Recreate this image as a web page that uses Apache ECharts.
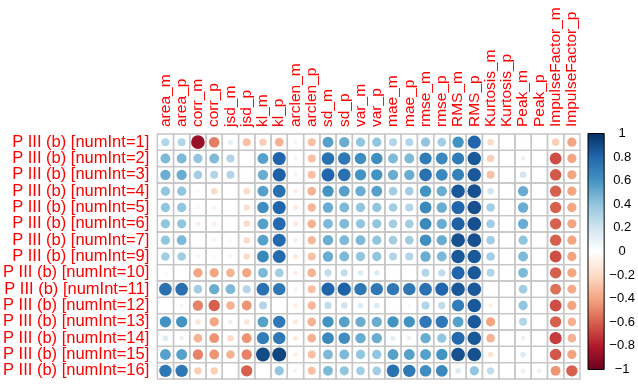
<!DOCTYPE html>
<html>
<head>
<meta charset="utf-8">
<script src="https://cdn.jsdelivr.net/npm/echarts@6/dist/echarts.min.js"></script>
<style>html,body{margin:0;padding:0;background:#fff}#c{width:638px;height:384px}</style>
</head>
<body>
<div id="c"></div>
<script>
const colLabels = ['area_m','area_p','corr_m','corr_p','jsd_m','jsd_p','kl_m','kl_p','arclen_m','arclen_p','sd_m','sd_p','var_m','var_p','mae_m','mae_p','rmse_m','rmse_p','RMS_m','RMS_p','Kurtosis_m','Kurtosis_p','Peak_m','Peak_p','ImpulseFactor_m','ImpulseFactor_p'];
const rowLabels = ['P III (b) [numInt=1]','P III (b) [numInt=2]','P III (b) [numInt=3]','P III (b) [numInt=4]','P III (b) [numInt=5]','P III (b) [numInt=6]','P III (b) [numInt=7]','P III (b) [numInt=9]','P III (b) [numInt=10]','P III (b) [numInt=11]','P III (b) [numInt=12]','P III (b) [numInt=13]','P III (b) [numInt=14]','P III (b) [numInt=15]','P III (b) [numInt=16]'];
const corr = [
 [0.3,0.3,-0.87,-0.52,0.12,-0.3,-0.25,-0.35,-0.07,-0.3,0.55,0.5,0.4,0.4,0.3,0.3,0.4,0.35,0.6,0.8,-0.2,0,0.03,0.02,-0.25,-0.4],
 [0.45,0.45,0.4,0.45,0.3,0.02,0.55,0.8,-0.08,-0.3,0.75,0.72,0.62,0.62,0.45,0.45,0.7,0.65,0.7,0.85,-0.25,0,0.1,0.02,-0.65,-0.4],
 [0.5,0.5,0.35,0.3,0.3,-0.03,0.5,0.82,-0.08,-0.3,0.8,0.75,0.6,0.6,0.5,0.5,0.75,0.65,0.68,0.85,-0.3,0,0.2,0.02,-0.62,-0.4],
 [0.4,0.4,-0.05,-0.2,0,-0.2,0.55,0.75,-0.1,-0.35,0.6,0.55,0.5,0.55,0.35,0.35,0.6,0.5,0.85,0.88,0.2,0,0.5,0.02,-0.6,-0.4],
 [0.4,0.4,-0.05,-0.08,0,-0.18,0.62,0.8,-0.12,-0.33,0.5,0.45,0.4,0.4,0.35,0.3,0.65,0.5,0.8,0.88,0.35,0,0.5,0.02,-0.6,-0.4],
 [0.4,0.4,-0.1,-0.1,-0.03,-0.2,0.55,0.78,-0.12,-0.35,0.45,0.45,0.4,0.4,0.35,0.35,0.65,0.5,0.82,0.88,0.35,0,0.5,0.02,-0.6,-0.4],
 [0.4,0.45,0.02,-0.08,-0.05,-0.2,0.55,0.78,-0.1,-0.33,0.5,0.45,0.45,0.4,0.35,0.35,0.62,0.5,0.88,0.88,0.35,0,0.4,0.02,-0.6,-0.4],
 [0.35,0.35,-0.07,-0.05,-0.07,-0.2,0.65,0.78,-0.12,-0.3,0.5,0.45,0.4,0.4,0.3,0.3,0.5,0.45,0.85,0.85,0.35,0,0.45,0.02,-0.65,-0.4],
 [0.05,0.02,-0.4,-0.4,-0.35,-0.4,0.45,0.35,-0.1,-0.35,0.25,0.25,0.15,0.15,0.03,0.01,0.3,0.25,0.8,0.85,0.3,0,0.45,0.02,-0.6,-0.4],
 [0.75,0.75,0.35,0.5,0.45,0.3,0.75,0.72,-0.08,-0.3,0.8,0.82,0.72,0.72,0.72,0.72,0.75,0.8,0.85,0.85,0.03,0,0.35,0.02,-0.55,-0.38],
 [0.02,-0.07,-0.5,-0.6,-0.35,-0.45,0.3,0,-0.1,-0.33,0.25,0.2,0.15,0.15,0.02,-0.05,0.3,0.25,0.7,0.85,-0.1,0,0.4,0.02,-0.65,-0.4],
 [0.6,0.6,-0.15,-0.4,0.1,-0.15,0.55,0.72,-0.12,-0.35,0.6,0.55,0.5,0.5,0.6,0.6,0.72,0.72,0.55,0.85,-0.4,0,0.3,0.02,-0.6,-0.35],
 [0.15,0.1,-0.35,-0.45,-0.2,-0.45,0.7,0.72,-0.12,-0.35,0.65,0.62,0.5,0.5,0.12,0.1,0.5,0.4,0.78,0.85,-0.35,0,0.1,0.02,-0.7,-0.35],
 [0.55,0.55,-0.5,-0.45,-0.35,-0.5,0.9,0.92,-0.1,-0.3,0.45,0.45,0.4,0.4,0.55,0.55,0.55,0.6,0.88,0.88,-0.15,0,0.15,0.02,-0.62,-0.4],
 [0.72,0.72,-0.25,-0.25,0,-0.6,0.02,0.4,-0.08,-0.3,0.45,0.4,0.35,0.35,0.75,0.72,0.62,0.65,0.15,0.4,0.25,0.01,0.1,0.1,-0.45,-0.6]
];
const palette = ['#67001F','#B2182B','#D6604D','#F4A582','#FDDBC7','#FFFFFF','#D1E5F0','#92C5DE','#4393C3','#2166AC','#053061'];
const legendMin = -1, legendMax = 1, legendStep = 0.2;

const cells = [];
corr.forEach((row, i) => row.forEach((v, j) => cells.push([j, i, v])));

const FONT = 'Liberation Sans, Arial, Helvetica, sans-serif';
const chart = echarts.init(document.getElementById('c'));
chart.setOption({
  animation: false,
  backgroundColor: '#fff',
  grid: [
    {left: 154, top: 134, width: 426, height: 245, containLabel: false},
    {left: 588, top: 133.5, width: 16.5, height: 236, containLabel: false}
  ],
  xAxis: [
    {gridIndex: 0, type: 'category', data: colLabels, position: 'top',
     axisLine: {show: false}, axisTick: {show: false}, splitLine: {show: false},
     axisLabel: {interval: 0, rotate: -90,
       color: '#FF0000', fontSize: 15.5, fontFamily: FONT, margin: 7}},
    {gridIndex: 1, type: 'value', min: 0, max: 1, show: false}
  ],
  yAxis: [
    {gridIndex: 0, type: 'category', data: rowLabels, inverse: true,
     axisLine: {show: false}, axisTick: {show: false}, splitLine: {show: false},
     axisLabel: {interval: 0, color: '#FF0000', fontSize: 16.5, fontFamily: FONT, margin: 8}},
    {gridIndex: 1, type: 'value', min: legendMin, max: legendMax, interval: legendStep, position: 'right',
     axisLine: {show: false}, splitLine: {show: false},
     axisTick: {show: true, length: 3, lineStyle: {color: '#000', width: 1}},
     axisLabel: {color: '#000', fontSize: 13, fontFamily: FONT, align: 'center', margin: 18,
       formatter: v => { const r = Math.round(v * 10) / 10; return r < 0 ? '\u2212' + Math.abs(r) : String(r); }}}
  ],
  visualMap: {
    show: false, type: 'continuous', min: -1, max: 1, dimension: 2, seriesIndex: 0,
    inRange: {color: palette}
  },
  series: [
    {
      type: 'custom', xAxisIndex: 0, yAxisIndex: 0, data: cells,
      renderItem: function (params, api) {
        const c = api.coord([api.value(0), api.value(1)]);
        const s = api.size([1, 1]);
        const w = s[0], h = s[1];
        const v = api.value(2);
        const r = 0.45 * Math.sqrt(Math.abs(v)) * Math.min(w, h);
        return {type: 'group', children: [
          {type: 'circle', shape: {cx: c[0], cy: c[1], r: r}, style: {fill: api.visual('color')}},
          {type: 'rect', shape: {x: c[0] - w / 2, y: c[1] - h / 2, width: w, height: h},
           style: {fill: 'none', stroke: '#c6c6c6', lineWidth: 1.4}}
        ]};
      }
    },
    {
      type: 'custom', xAxisIndex: 1, yAxisIndex: 1, data: [[0, legendMax]],
      renderItem: function (params, api) {
        const p0 = api.coord([0, legendMax]);
        const p1 = api.coord([1, legendMin]);
        const stops = palette.slice().reverse().map((col, k) => ({offset: k / (palette.length - 1), color: col}));
        return {type: 'rect', shape: {x: p0[0], y: p0[1], width: p1[0] - p0[0], height: p1[1] - p0[1]},
          style: {fill: new echarts.graphic.LinearGradient(0, 0, 0, 1, stops), stroke: '#000', lineWidth: 1}};
      }
    }
  ]
});
</script>
</body>
</html>
